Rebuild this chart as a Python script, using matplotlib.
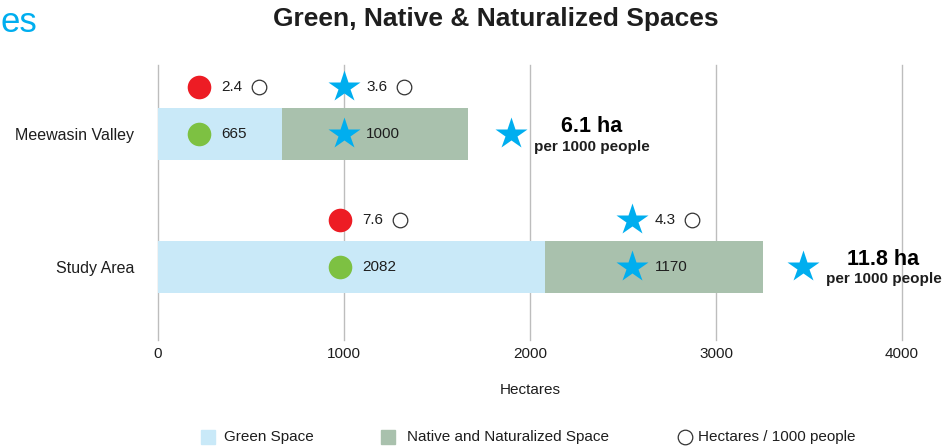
import matplotlib
matplotlib.use("Agg")
import matplotlib.pyplot as plt
from matplotlib.patches import Rectangle
from matplotlib.lines import Line2D
from matplotlib.transforms import offset_copy

plt.rcParams['font.family'] = ['Liberation Sans', 'DejaVu Sans']

# ---- data ----
categories = ["Meewasin Valley", "Study Area"]
green_space = [665, 2082]
native_space = [1000, 1170]
green_per_1000 = [2.4, 7.6]
native_per_1000 = [3.6, 4.3]
total_per_1000 = [6.1, 11.8]
x_ticks = [0, 1000, 2000, 3000, 4000]
legend_labels = ["Green Space", "Native and Naturalized Space", "Hectares / 1000 people"]

# ---- layout / style ----
W, H = 947, 448
C_GREEN_BAR = "#c9e9f8"
C_NATIVE_BAR = "#a9c1ad"
C_RED = "#ed1c24"
C_GREEN_DOT = "#7dc142"
C_STAR = "#00aeef"
C_TEXT = "#1e1e1e"
C_GRID = "#bdbdbd"

y_pos = [1, 0]
bar_h = 0.39
top_off = 0.353
circle_x = [220, 980]      # horizontal placement of the circle markers
star_x = [1000, 2550]      # horizontal placement of the star markers
big_star_x = [1900, 3470]  # horizontal placement of the total star

fig = plt.figure(figsize=(W / 100, H / 100), dpi=100)
ax = fig.add_axes([158 / W, 1 - 340 / H, (902 - 158) / W, (340 - 65) / H])
ax.set_xlim(0, 4000)
ax.set_ylim(-0.549, 1.519)

for s in ax.spines.values():
    s.set_visible(False)
ax.set_xticks(x_ticks)
ax.set_xticklabels([str(t) for t in x_ticks], fontsize=11, color=C_TEXT)
ax.tick_params(axis='x', length=0, pad=5)
ax.set_yticks(y_pos)
ax.set_yticklabels(categories, fontsize=11.5, color=C_TEXT)
ax.tick_params(axis='y', length=0, pad=17)
ax.grid(axis='x', color=C_GRID, linewidth=1)
for gl in ax.get_xgridlines():
    gl.set_clip_on(False)
ax.set_axisbelow(True)
ax.set_xlabel("Hectares", fontsize=11, color=C_TEXT, labelpad=16)

ax.barh(y_pos, green_space, height=bar_h, color=C_GREEN_BAR, zorder=2)
ax.barh(y_pos, native_space, left=green_space, height=bar_h, color=C_NATIVE_BAR, zorder=2)

txt_tr = offset_copy(ax.transData, fig=fig, x=16, y=0, units='points')
oc_tr = offset_copy(ax.transData, fig=fig, x=43, y=0, units='points')
big_tr1 = offset_copy(ax.transData, fig=fig, x=57.6, y=5.5, units='points')
big_tr2 = offset_copy(ax.transData, fig=fig, x=57.6, y=-9, units='points')

for i in range(len(categories)):
    y = y_pos[i]
    yt = y + top_off
    # circles
    ax.plot(circle_x[i], yt, 'o', ms=17, color=C_RED, mec='none', zorder=3)
    ax.plot(circle_x[i], y, 'o', ms=17, color=C_GREEN_DOT, mec='none', zorder=3)
    ax.text(circle_x[i], yt, f"{green_per_1000[i]}", transform=txt_tr,
            fontsize=11, color=C_TEXT, va='center', ha='left')
    ax.text(circle_x[i], y, f"{green_space[i]}", transform=txt_tr,
            fontsize=11, color=C_TEXT, va='center', ha='left')
    ax.plot(circle_x[i], yt, 'o', ms=10.5, mfc='white', mec='#333333', mew=0.9,
            transform=oc_tr, zorder=3)
    # stars
    ax.plot(star_x[i], yt, '*', ms=24, color=C_STAR, mec='none', zorder=3)
    ax.plot(star_x[i], y, '*', ms=24, color=C_STAR, mec='none', zorder=3)
    ax.text(star_x[i], yt, f"{native_per_1000[i]}", transform=txt_tr,
            fontsize=11, color=C_TEXT, va='center', ha='left')
    ax.text(star_x[i], y, f"{native_space[i]}", transform=txt_tr,
            fontsize=11, color=C_TEXT, va='center', ha='left')
    ax.plot(star_x[i], yt, 'o', ms=10.5, mfc='white', mec='#333333', mew=0.9,
            transform=oc_tr, zorder=3)
    # total
    ax.plot(big_star_x[i], y, '*', ms=24, color=C_STAR, mec='none', zorder=3, clip_on=False)
    ax.text(big_star_x[i], y, f"{total_per_1000[i]} ha", transform=big_tr1,
            fontsize=15.5, fontweight='bold', color='black', va='center', ha='center',
            clip_on=False)
    ax.text(big_star_x[i], y, "per 1000 people", transform=big_tr2,
            fontsize=11, fontweight='bold', color=C_TEXT, va='center', ha='center',
            clip_on=False)

# ---- title and header fragment ----
fig.text(496 / W, 1 - 19 / H, "Green, Native & Naturalized Spaces", fontsize=19,
         fontweight='bold', color=C_TEXT, ha='center', va='center')
fig.text(0.5 / W, 1 - 22 / H, "es", fontsize=25, color=C_STAR, ha='left', va='center')

# ---- legend (manual) ----
ly = 1 - 437 / H
sq = 14
fig.add_artist(Rectangle((201 / W, ly - sq / 2 / H), sq / W, sq / H,
                         transform=fig.transFigure, color=C_GREEN_BAR))
fig.text(224 / W, ly, legend_labels[0], fontsize=11, color=C_TEXT, va='center', ha='left')
fig.add_artist(Rectangle((381 / W, ly - sq / 2 / H), sq / W, sq / H,
                         transform=fig.transFigure, color=C_NATIVE_BAR))
fig.text(407 / W, ly, legend_labels[1], fontsize=11, color=C_TEXT, va='center', ha='left')
fig.add_artist(Line2D([685 / W], [ly], marker='o', ms=10.5, mfc='white', mec='#333333',
                      mew=0.9, transform=fig.transFigure))
fig.text(698 / W, ly, legend_labels[2], fontsize=11, color=C_TEXT, va='center', ha='left')

fig.savefig("out.png", dpi=100)
